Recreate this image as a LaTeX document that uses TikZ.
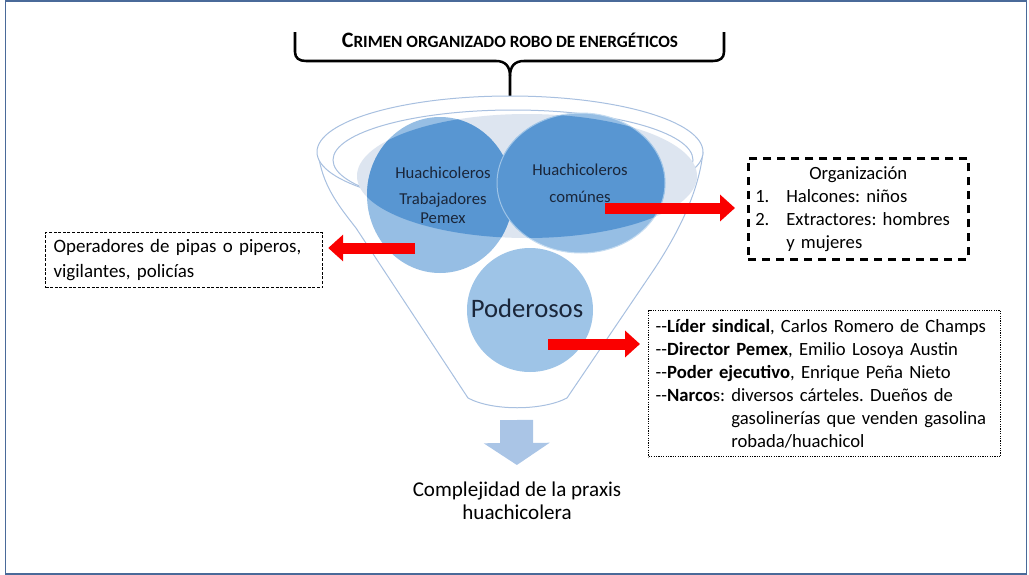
\documentclass[tikz,border=0pt]{standalone}
\usepackage{fontspec}
\setmainfont{Carlito}
\usetikzlibrary{arrows.meta}

\definecolor{framecol}{RGB}{74,106,153}
\definecolor{rimcol}{RGB}{168,192,224}
\definecolor{liquidcol}{RGB}{221,229,240}
\definecolor{bluedark}{RGB}{88,150,210}
\definecolor{bluelight}{RGB}{150,190,228}
\definecolor{bluepale}{RGB}{158,196,231}
\definecolor{circtext}{RGB}{26,38,58}
\definecolor{arrowred}{RGB}{250,0,0}
\definecolor{downblue}{RGB}{170,197,230}

\tikzset{every picture/.style={line width=0.75pt},
	redarrow/.style={arrowred, line width=8.25pt, -{Triangle[width=19.5pt,length=11.25pt]}},
	downarrow/.style={downblue, line width=24.75pt, -{Triangle[width=48.75pt,length=16.5pt]}},
	circlabel/.style={inner sep=0.75pt, align=center, text=circtext},
	finedash/.style={draw, line width=0.9pt, dash pattern=on 2.25pt off 1.2pt},
	thickdash/.style={draw, line width=1.9pt, dash pattern=on 6pt off 4.5pt},
	dotbox/.style={draw, line width=1.1pt, dash pattern=on 0.9pt off 0.9pt},
}

\begin{document}
\begin{tikzpicture}[x=0.75pt,y=0.75pt,yscale=-1,xscale=1]
		\useasboundingbox (0,0) rectangle (1029,575);
		
		%frame
		\draw [color=framecol, line width=1.1pt] (5.5,1) rectangle (1026.5,574);
		
		%brace
		\draw [line width=1.9pt, line join=round] (295,32) -- (295,52) .. controls (295,58) and (299,61) .. (306,61) -- (496,61) .. controls (505,61) and (510,66) .. (510,76) -- (510,101) ;
		\draw [line width=1.9pt, line join=round] (724,32) -- (724,52) .. controls (724,58) and (720,61) .. (713,61) -- (524,61) .. controls (515,61) and (510,66) .. (510,76) ;
		\draw (510,40) node [inner sep=0.75pt] (title) {\bfseries\fontsize{16.5}{18}\selectfont C\fontsize{12.9}{14}\selectfont RIMEN ORGANIZADO ROBO DE ENERGÉTICOS};
		
		%Shape: Funnel body
		\draw [color=rimcol, fill=white] (318,152) .. controls (322,185) and (338,205) .. (356,228) -- (468,398) .. controls (492,411) and (542,411) .. (567,398) -- (655,268) .. controls (680,230) and (699,190) .. (703,152) ;
		%Shape: Ellipse rim
		\draw [color=rimcol, fill=white] (510,152) ellipse (193 and 56) ;
		\draw [color=rimcol] (513,160) ellipse (180 and 50) ;
		%Shape: Ellipse liquid
		\fill [liquidcol] (527,176) ellipse (170 and 62) ;
		
		%Shape: Circles
		\fill [bluelight] (440,195) ellipse (73 and 78) ;
		\draw [color=bluepale!60!white, fill=bluelight] (581,183) ellipse (84 and 70) ;
		\begin{scope}
			\clip (527,176) ellipse (170 and 62) ;
			\fill [bluedark] (440,195) ellipse (73 and 78) ;
			\draw [color=bluepale, fill=bluedark] (581,183) ellipse (84 and 70) ;
		\end{scope}
		\fill [bluepale] (530,310) ellipse (63 and 62) ;
		
		\draw (443,195) node [circlabel, font={\fontsize{12.5}{14.25}\selectfont}] (trab) {Huachicoleros\\[5.25pt]Trabajadores\\Pemex};
		\draw (580,183.5) node [circlabel, font={\fontsize{12.5}{14.25}\selectfont}] (comun) {Huachicoleros\\[6pt]comúnes};
		\draw (527,308) node [circlabel, font={\fontsize{20}{24}\selectfont}] (poder) {Poderosos};
		
		%boxes
		\draw (45,232) node [finedash, anchor=north west, inner xsep=6pt, inner ysep=1.5pt, text width=195.75pt, minimum height=41.25pt, align=left, font={\fontsize{14.2}{18.75}\selectfont\frenchspacing}] (opbox) {Operadores de pipas o piperos,\\vigilantes, policías};
		\draw (747,157) node [thickdash, anchor=north west, inner xsep=5.25pt, inner ysep=2pt, text width=154.5pt, minimum height=75.75pt, align=left, font={\fontsize{14}{17.25}\selectfont\frenchspacing}] (orgbox) {\makebox[154.5pt]{Organización}\\\makebox[23.25pt][l]{1.}Halcones: niños\\\makebox[23.25pt][l]{2.}Extractores: hombres\\\hspace*{23.25pt}y mujeres};
		\draw (648,310) node [dotbox, anchor=north west, inner xsep=5.25pt, inner ysep=2pt, text width=253.5pt, minimum height=109.5pt, align=left, font={\fontsize{14}{17.25}\selectfont\frenchspacing}] (podbox) {-{}-\textbf{Líder sindical}, Carlos Romero de Champs\\-{}-\textbf{Director Pemex}, Emilio Losoya Austin\\-{}-\textbf{Poder ejecutivo}, Enrique Peña Nieto\\-{}-\textbf{Narco}s: diversos cárteles. Dueños de\\\hphantom{-{}-\textbf{Narco}s: }gasolinerías que venden gasolina\\\hphantom{-{}-\textbf{Narco}s: }robada/huachicol};
		
		\draw (517,480) node [anchor=north, inner sep=0.75pt, align=center, font={\fontsize{15.8}{17.25}\selectfont}] (praxis) {Complejidad de la praxis\\huachicolera};
		
		%arrows
		\coordinate (a1) at (415,248) ;
		\coordinate (a2) at (605,208) ;
		\coordinate (a3) at (548,344) ;
		\coordinate (fbot) at (516.5,420) ;
		\draw [redarrow, shorten >=3.75pt] (a1) -- (a1 -| opbox.east) ;
		\draw [redarrow, shorten >=9pt] (a2) -- (a2 -| orgbox.west) ;
		\draw [redarrow, shorten >=6pt] (a3) -- (a3 -| podbox.west) ;
		\draw [downarrow, shorten >=11.25pt] (fbot) -- (praxis.north) ;
		
	\end{tikzpicture}
\end{document}
